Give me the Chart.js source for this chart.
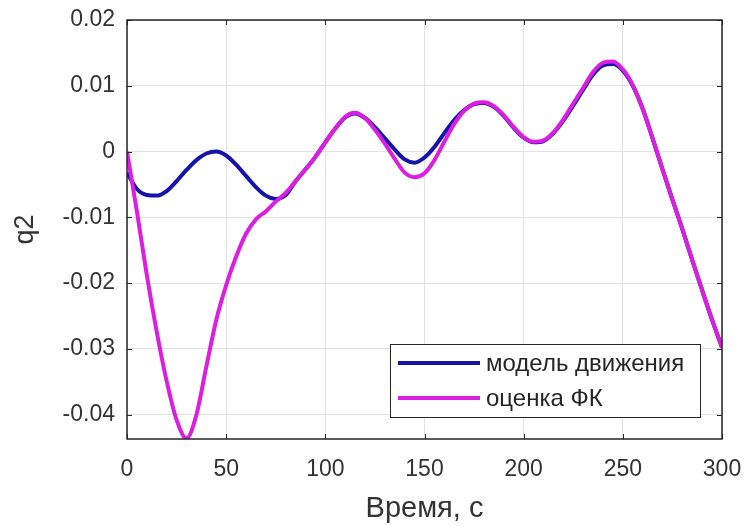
<!DOCTYPE html>
<html>
<head>
<meta charset="utf-8">
<script src="https://cdn.jsdelivr.net/npm/chart.js@4.4.1/dist/chart.umd.min.js"></script>
<style>
  html, body { margin: 0; padding: 0; background: #ffffff; }
  #wrap { width: 745px; height: 526px; position: relative; }
</style>
</head>
<body>
<div id="wrap"><canvas id="c" width="745" height="526"></canvas></div>
<script>
// ---- data ----
const timeValues = [0,5,10,15,20,25,30,35,40,45,50,55,60,65,70,75,80,85,90,95,100,105,110,115,120,125,130,135,140,145,150,155,160,165,170,175,180,185,190,195,200,205,210,215,220,225,230,235,240,245,250,255,260,265,270,275,280,285,290,295,300];

const modelValues = [-0.0032,-0.0057,-0.0066,-0.0067,-0.0060,-0.0045,-0.0028,-0.0013,-0.0003,0.0000,-0.0006,-0.0020,-0.0037,-0.0054,-0.0067,-0.0072,-0.0066,-0.0045,-0.0027,-0.0008,0.0014,0.0035,0.0052,0.0058,0.0051,0.0037,0.0020,0.0003,-0.0012,-0.0017,-0.0009,0.0007,0.0028,0.0048,0.0063,0.0072,0.0074,0.0068,0.0054,0.0036,0.0021,0.0014,0.0016,0.0028,0.0047,0.0070,0.0094,0.0117,0.0131,0.0133,0.0123,0.0100,0.0065,0.0020,-0.0027,-0.0073,-0.0118,-0.0165,-0.0211,-0.0256,-0.0298];

const filterValues = [0.0000,-0.0091,-0.0188,-0.0274,-0.0349,-0.0408,-0.0436,-0.0400,-0.0327,-0.0256,-0.0203,-0.0160,-0.0125,-0.0103,-0.0091,-0.0076,-0.0063,-0.0045,-0.0027,-0.0008,0.0014,0.0035,0.0053,0.0059,0.0051,0.0033,0.0012,-0.0011,-0.0032,-0.0039,-0.0033,-0.0013,0.0015,0.0042,0.0062,0.0073,0.0075,0.0069,0.0055,0.0037,0.0022,0.0015,0.0017,0.0029,0.0049,0.0073,0.0097,0.0121,0.0135,0.0137,0.0125,0.0101,0.0065,0.0020,-0.0027,-0.0073,-0.0118,-0.0165,-0.0211,-0.0256,-0.0298];

const seriesLabels = ['модель движения', 'оценка ФК'];
const xTicks = [0,50,100,150,200,250,300];
const yTicks = [-0.04,-0.03,-0.02,-0.01,0,0.01,0.02];
const xTitle = 'Время, с';
const yTitle = 'q2';

// ---- build points ----
const toPoints = vals => timeValues.map((t, i) => ({ x: t, y: vals[i] }));

const FONT = "'Liberation Sans', Arial, sans-serif";
const TEXT = '#333333';
const AXIS = '#262626';

// frame + inward ticks
const framePlugin = {
  id: 'frame',
  afterDraw(chart) {
    const { ctx, chartArea: a, scales } = chart;
    const xs = scales.x, ys = scales.y;
    const L = 5;
    ctx.save();
    ctx.strokeStyle = AXIS;
    ctx.lineWidth = 1;
    ctx.beginPath();
    xTicks.forEach(v => {
      const p = Math.round(xs.getPixelForValue(v)) + 0.5;
      ctx.moveTo(p, a.bottom); ctx.lineTo(p, a.bottom - L);
      ctx.moveTo(p, a.top); ctx.lineTo(p, a.top + L);
    });
    yTicks.forEach(v => {
      const p = Math.round(ys.getPixelForValue(v)) + 0.5;
      if (p < a.top || p > a.bottom) return;
      ctx.moveTo(a.left, p); ctx.lineTo(a.left + L, p);
      ctx.moveTo(a.right, p); ctx.lineTo(a.right - L, p);
    });
    ctx.stroke();
    ctx.lineWidth = 1.5;
    ctx.strokeRect(a.left, a.top, a.right - a.left, a.bottom - a.top);
    ctx.restore();
  }
};

// MATLAB-style legend in the south-east corner
const legendPlugin = {
  id: 'boxLegend',
  afterDraw(chart) {
    const { ctx, chartArea: a } = chart;
    const w = 310, h = 73, margin = 22;
    const x0 = a.right - margin - w, y0 = a.bottom - margin - h;
    ctx.save();
    ctx.fillStyle = '#ffffff';
    ctx.fillRect(x0, y0, w, h);
    ctx.strokeStyle = AXIS;
    ctx.lineWidth = 1;
    ctx.strokeRect(x0 + 0.5, y0 + 0.5, w, h);
    ctx.font = '24px ' + FONT;
    ctx.textBaseline = 'middle';
    ctx.textAlign = 'left';
    chart.data.datasets.forEach((ds, i) => {
      const yy = y0 + 19 + i * 35;
      ctx.strokeStyle = ds.borderColor;
      ctx.lineWidth = 4;
      ctx.beginPath();
      ctx.moveTo(x0 + 8, yy); ctx.lineTo(x0 + 90, yy);
      ctx.stroke();
      ctx.fillStyle = '#262626';
      ctx.fillText(ds.label, x0 + 96, yy + 1);
    });
    ctx.restore();
  }
};

new Chart(document.getElementById('c'), {
  type: 'line',
  data: {
    datasets: [
      { label: seriesLabels[0], data: toPoints(modelValues), borderColor: '#1414aa', borderWidth: 4, pointRadius: 0, cubicInterpolationMode: 'monotone', order: 2 },
      { label: seriesLabels[1], data: toPoints(filterValues), borderColor: '#dc1ee0', borderWidth: 4, pointRadius: 0, cubicInterpolationMode: 'monotone', order: 1 }
    ]
  },
  options: {
    responsive: false,
    animation: false,
    devicePixelRatio: 1,
    layout: { padding: { top: 20, right: 23, left: 0, bottom: 0 } },
    plugins: { legend: { display: false }, tooltip: { enabled: false } },
    scales: {
      x: {
        type: 'linear',
        min: 0, max: 300,
        afterBuildTicks: s => { s.ticks = xTicks.map(v => ({ value: v })); },
        ticks: { color: TEXT, font: { family: FONT, size: 23 }, padding: 17, maxRotation: 0 },
        grid: { color: '#e2e2e2', drawTicks: false, lineWidth: 1 },
        border: { display: false },
        title: { display: true, text: xTitle, color: TEXT, font: { family: FONT, size: 29 }, padding: { top: 0, bottom: 0 } },
        afterFit: s => { s.height = 87; s.paddingLeft = 0; s.paddingRight = 0; }
      },
      y: {
        type: 'linear',
        min: -0.0437, max: 0.02,
        afterBuildTicks: s => { s.ticks = yTicks.map(v => ({ value: v })); },
        ticks: { color: TEXT, font: { family: FONT, size: 23 }, padding: 12, callback: v => String(Number(v.toFixed(2))) },
        grid: { color: '#e2e2e2', drawTicks: false, lineWidth: 1 },
        border: { display: false },
        title: { display: true, text: yTitle, color: TEXT, font: { family: FONT, size: 27 }, padding: { top: 9, bottom: 0 } },
        afterFit: s => { s.width = 127; s.paddingTop = 0; s.paddingBottom = 0; }
      }
    }
  },
  plugins: [framePlugin, legendPlugin]
});
</script>
</body>
</html>
